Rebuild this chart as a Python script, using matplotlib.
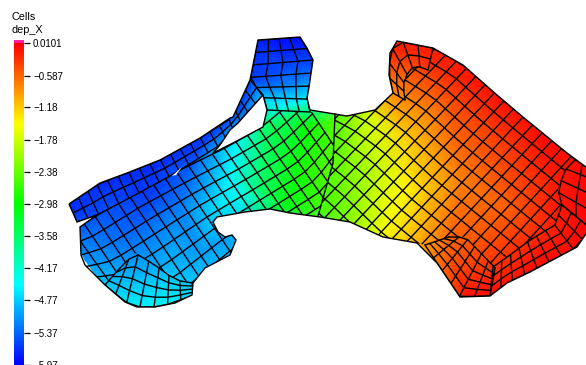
import numpy as np
import matplotlib
matplotlib.use("Agg")
import matplotlib.pyplot as plt
from matplotlib.colors import LinearSegmentedColormap, Normalize
from matplotlib.cm import ScalarMappable
from matplotlib.patches import Polygon
from matplotlib.tri import Triangulation

plt.rcParams['font.family'] = ['Liberation Sans', 'DejaVu Sans']

# ---- values ----
tick_values = [0.0101, -0.587, -1.18, -1.78, -2.38, -2.98, -3.58, -4.17, -4.77, -5.37, -5.97]
tick_labels = ['0.0101', '\u22120.587', '\u22121.18', '\u22121.78', '\u22122.38', '\u22122.98',
               '\u22123.58', '\u22124.17', '\u22124.77', '\u22125.37', '\u22125.97']
var_min, var_max = -5.97, 0.0101

# sampled field: position and dep_X
field_x = [250,310,60,70,280,285,285,285,290,250,240,200,150,100,70,80,
           215,235,265,290,310,230,220,260,285,300,340,345,345,370,380,385,
           190,150,110,85,130,180,200,85,130,230,150,190,170,125,170,205,
           392,390,420,420,405,420,420,450,450,460,450,470,490,500,510,500,
           540,550,550,590,590,540,470,590,590,400,470,245,405,312,314,265]
field_y = [35,35,200,230,38,70,90,105,115,80,110,145,170,195,210,215,
           150,145,125,130,125,175,205,190,205,170,120,170,215,115,170,232,
           170,195,210,235,240,210,250,260,280,240,308,290,270,315,315,305,
           50,90,50,100,140,190,240,70,100,180,260,295,90,140,210,280,
           120,180,230,170,230,265,305,260,150,35,55,195,190,100,70,100]
field_v = [-5.8,-5.9,-5.7,-5.4,-5.9,-5.5,-5.1,-4.5,-3.6,-5.6,-5.5,-5.6,-5.7,-5.6,-5.7,-5.6,
           -5.0,-4.5,-3.6,-3.3,-2.9,-4.5,-4.6,-3.6,-3.1,-2.9,-2.4,-2.3,-2.3,-1.7,-1.8,-1.55,
           -5.4,-5.6,-5.5,-5.3,-5.3,-5.2,-5.05,-5.1,-4.85,-5.0,-4.5,-4.75,-4.85,-4.4,-4.4,-4.6,
           -0.2,-0.8,-0.2,-0.7,-1.25,-1.25,-1.0,-0.2,-0.45,-0.75,-0.5,-0.1,-0.1,-0.35,-0.55,-0.2,
           0.0,-0.2,-0.2,0.0,0.0,-0.05,-0.05,0.0,0.0,-0.2,-0.2,-4.3,-1.45,-4.4,-5.4,-4.7]

# silhouette of the mesh
outline_x = [69,100,127,160,200,230,233,250,258,300,307,313,309,307,310,347,375,393,389,390,397,
             433,463,497,523,567,590,590,577,530,507,490,460,437,417,383,350,320,290,270,245,217,
             213,218,225,232,236,230,205,193,192,175,155,137,125,105,85,81,80,97,77]
outline_y = [204,183,173,160,138,118,117,80,40,37,48,60,87,98,110,116,110,93,75,53,41,
             48,65,95,117,153,170,228,247,272,283,296,297,263,243,237,222,217,213,209,212,217,
             222,232,237,235,240,255,268,283,295,303,307,307,302,285,265,255,227,215,222]
gap_x = [263,238,230,220,213,233,263,267]
gap_y = [95,123,130,145,153,143,127,110]
slit_x = [172,182,176]
slit_y = [176,167,175]

# cap block at the top
cap_left_x = [258,254,250,263,267]
cap_left_y = [40,60,80,95,110]
cap_right_x = [300,313,309,307,310]
cap_right_y = [37,60,87,98,112]
# narrow branch
branch_a_x = [250,233,200,160,127,100,69]
branch_a_y = [80,117,138,160,173,183,204]
branch_b_x = [263,238,220,172,135,97,77]
branch_b_y = [95,123,145,175,195,215,222]
# left lobe block
lobe_a_x = [60,80,130,180,225,262,300]
lobe_a_y = [235,226,195,170,148,127,95]
lobe_b_x = [125,155,195,240,280,330,350]
lobe_b_y = [320,325,300,260,232,200,170]
lobe_clip_x = [80,97,135,172,220,213,233,263,267,310,335,333,318,320,290,270,245,217,213,218,225,232,
               236,230,205,193,175,155,135,120,105,85,81]
lobe_clip_y = [227,215,195,175,145,153,143,127,110,112,114,163,216,217,213,209,212,217,222,232,237,235,
               240,255,268,283,280,265,253,268,285,265,255]
# lobe foot
foot_a_x = [120,135,155,175,192]
foot_a_y = [268,253,265,280,283]
foot_b_x = [105,125,140,160,194]
foot_b_y = [285,302,307,307,295]
# right block
right_a_x = [335,397,433,463,497,523,567,600]
right_a_y = [0,38,48,65,95,117,153,180]
right_b_x = [155,300,400]
right_b_y = [172,320,400]
right_clip_x = [335,347,375,393,405,403,408,415,428,433,463,497,523,567,590,575,565,558,562,555,530,510,
                493,478,465,449,425,417,383,350,318,333]
right_clip_y = [114,116,110,93,100,85,72,65,70,48,65,95,117,153,170,160,170,190,205,225,240,255,
                267,250,237,237,245,243,237,222,216,163]
# bottom corner fan
fan_a_x = [449,465,478,495]
fan_a_y = [237,237,250,268]
fan_b_x = [425,437,460,490]
fan_b_y = [245,263,297,296]
# lower right ring
ring_a_x = [493,510,530,555,562]
ring_a_y = [267,255,240,225,205]
ring_b_x = [490,507,530,577,590]
ring_b_y = [296,283,272,247,228]
# right end ring
end_a_x = [562,558,565,575]
end_a_y = [205,190,170,160]
end_b_x = [590,595,595,590]
end_b_y = [228,205,180,165]
# upper apex ring
apex_a_x = [433,397,390,389,393]
apex_a_y = [48,41,53,75,93]
apex_b_x = [428,415,408,403,405]
apex_b_y = [70,65,72,85,100]


def resample(xs, ys, n):
    xs, ys = np.asarray(xs, float), np.asarray(ys, float)
    s = np.r_[0, np.cumsum(np.hypot(np.diff(xs), np.diff(ys)))]
    t = np.linspace(0, s[-1], n)
    return np.interp(t, s, xs), np.interp(t, s, ys)


def draw_block(ax, ax_, ay_, bx_, by_, nu, nv, clip):
    a = resample(ax_, ay_, nu + 1)
    b = resample(bx_, by_, nu + 1)
    w = np.linspace(0, 1, nv + 1)[:, None]
    X = a[0][None, :] * (1 - w) + b[0][None, :] * w
    Y = a[1][None, :] * (1 - w) + b[1][None, :] * w
    for row in range(nv + 1):
        ax.plot(X[row], Y[row], color='k', lw=1.0, clip_path=clip, solid_capstyle='round')
    for col in range(nu + 1):
        ax.plot(X[:, col], Y[:, col], color='k', lw=1.0, clip_path=clip, solid_capstyle='round')


fig = plt.figure(figsize=(5.86, 3.65), dpi=100)
ax = fig.add_axes([0, 0, 1, 1])
ax.set_xlim(0, 586)
ax.set_ylim(365, 0)
ax.axis('off')

cmap = LinearSegmentedColormap.from_list('rainbow5', ['#0000ff', '#00ffff', '#00ff00', '#ffff00', '#ff0000'], N=256)
cmap = cmap.with_extremes(over='#ff20a0')
norm = Normalize(var_min, var_max)

outline = Polygon(np.c_[outline_x, outline_y], closed=True, fc='none', ec='none', transform=ax.transData)
ax.add_patch(outline)
tri = Triangulation(field_x, field_y)
tp = ax.tripcolor(tri, field_v, shading='gouraud', cmap=cmap, norm=norm)
tp.set_clip_path(outline)

lobe_clip = Polygon(np.c_[lobe_clip_x, lobe_clip_y], closed=True, fc='none', ec='none', transform=ax.transData)
right_clip = Polygon(np.c_[right_clip_x, right_clip_y], closed=True, fc='none', ec='none', transform=ax.transData)
ax.add_patch(lobe_clip)
ax.add_patch(right_clip)

draw_block(ax, cap_left_x, cap_left_y, cap_right_x, cap_right_y, 6, 4, outline)
draw_block(ax, branch_a_x, branch_a_y, branch_b_x, branch_b_y, 20, 2, outline)
draw_block(ax, lobe_a_x, lobe_a_y, lobe_b_x, lobe_b_y, 21, 8, lobe_clip)
draw_block(ax, foot_a_x, foot_a_y, foot_b_x, foot_b_y, 7, 4, outline)
draw_block(ax, right_a_x, right_a_y, right_b_x, right_b_y, 26, 20, right_clip)
draw_block(ax, fan_a_x, fan_a_y, fan_b_x, fan_b_y, 6, 5, outline)
draw_block(ax, ring_a_x, ring_a_y, ring_b_x, ring_b_y, 9, 3, outline)
draw_block(ax, end_a_x, end_a_y, end_b_x, end_b_y, 4, 2, outline)
draw_block(ax, apex_a_x, apex_a_y, apex_b_x, apex_b_y, 6, 2, outline)

ax.plot([335, 333, 318], [114, 163, 216], color='k', lw=1.0)
ax.add_patch(Polygon(np.c_[gap_x, gap_y], closed=True, fc='white', ec='k', lw=1.0, zorder=4))
ax.add_patch(Polygon(np.c_[slit_x, slit_y], closed=True, fc='white', ec='none', zorder=4))
ax.add_patch(Polygon(np.c_[outline_x, outline_y], closed=True, fc='none', ec='k', lw=1.0, zorder=5))

# legend bar
cax = fig.add_axes([14 / 586, 0, 10 / 586, (365 - 39.5) / 365])
cb = fig.colorbar(ScalarMappable(norm=norm, cmap=cmap), cax=cax, extend='max', extendrect=True,
                  extendfrac=4 / 325.5, drawedges=False)
cb.outline.set_visible(False)
cb.set_ticks(tick_values)
cb.set_ticklabels(tick_labels)
cb.ax.tick_params(axis='y', length=4.5, width=0.9, pad=2.0, labelsize=7, colors='k')
cb.minorticks_off()

fig.text(11 / 586, 1 - 17 / 365, 'Cells', fontsize=7.8, va='center', ha='left')
fig.text(11 / 586, 1 - 30 / 365, 'dep_X', fontsize=7.8, va='center', ha='left')

fig.savefig('out.png', dpi=100)
